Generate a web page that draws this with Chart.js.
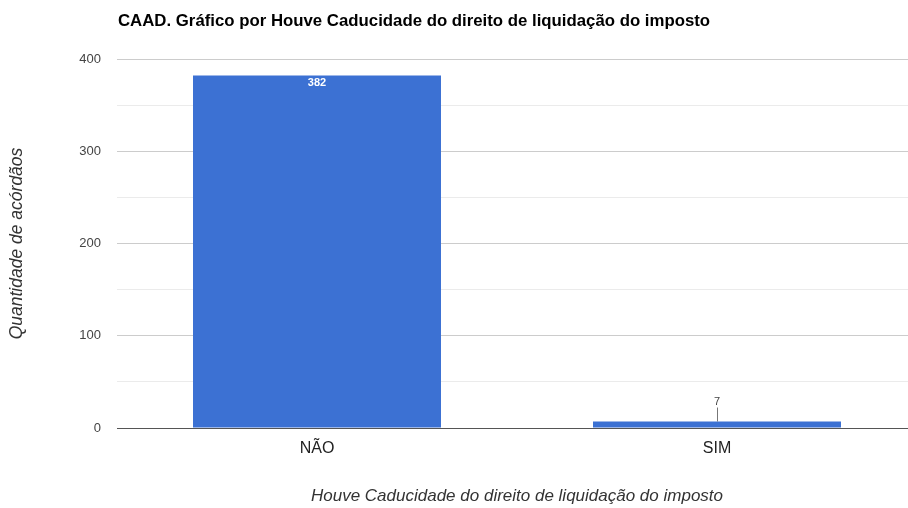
<!DOCTYPE html>
<html>
<head>
<meta charset="utf-8">
<script src="https://cdn.jsdelivr.net/npm/chart.js@4"></script>
<style>
  html, body { margin: 0; padding: 0; background: #fff; overflow: hidden; width: 908px; height: 508px; }
  /* plot area runs a little past the right edge, as in the original */
  #wrap { width: 917px; height: 508px; }
</style>
</head>
<body>
<div id="wrap"><canvas id="caadChart"></canvas></div>
<script>
// ============ CAAD bar chart ============
const chartTitle = 'CAAD. Gráfico por Houve Caducidade do direito de liquidação do imposto';
const categories = ['NÃO', 'SIM'];
const acordaos = [382, 7];
const yTicks = [0, 100, 200, 300, 400];

const FONT = 'Arial, "Liberation Sans", sans-serif';

// title + value labels drawn on the canvas
const extrasPlugin = {
    id: 'extras',
    afterDatasetsDraw(chart) {
        const ctx = chart.ctx;
        const area = chart.chartArea;
        ctx.save();
        ctx.font = 'bold 16.8px ' + FONT;
        ctx.fillStyle = '#000';
        ctx.textAlign = 'left';
        ctx.textBaseline = 'alphabetic';
        ctx.fillText(chartTitle, area.left + 1, 26);

        const meta = chart.getDatasetMeta(0);
        meta.data.forEach((bar, i) => {
            const v = acordaos[i];
            const h = bar.base - bar.y;
            ctx.textAlign = 'center';
            ctx.textBaseline = 'middle';
            if (h > 20) {
                ctx.font = 'bold 11px ' + FONT;
                ctx.fillStyle = '#fff';
                ctx.fillText(String(v), bar.x, bar.y + 7);
            } else {
                ctx.font = '11px ' + FONT;
                ctx.fillStyle = '#444';
                ctx.fillText(String(v), bar.x, bar.y - 20);
                ctx.strokeStyle = '#777';
                ctx.lineWidth = 1;
                ctx.beginPath();
                ctx.moveTo(Math.round(bar.x) + 0.5, bar.y - 14);
                ctx.lineTo(Math.round(bar.x) + 0.5, bar.y);
                ctx.stroke();
            }
        });
        ctx.restore();
    }
};

const ctx = document.getElementById('caadChart');
new Chart(ctx, {
    type: 'bar',
    data: {
        labels: categories,
        datasets: [{
            label: 'Quantidade de acórdãos',
            data: acordaos,
            backgroundColor: '#3c71d3',
            borderWidth: 0,
            barPercentage: 0.62,
            categoryPercentage: 1
        }]
    },
    options: {
        responsive: true,
        maintainAspectRatio: false,
        animation: false,
        layout: { padding: { top: 59, right: 0, left: 0, bottom: 0 } },
        plugins: {
            legend: { display: false },
            tooltip: { enabled: false }
        },
        scales: {
            y: {
                min: 0,
                max: 400,
                afterFit(scale) { scale.width = 117; },
                afterBuildTicks(scale) {
                    const t = [];
                    for (let v = 0; v <= 400; v += 50) t.push({ value: v });
                    scale.ticks = t;
                },
                ticks: {
                    padding: 16,
                    color: '#444',
                    font: { family: FONT, size: 13 },
                    callback: v => yTicks.includes(v) ? String(v) : ''
                },
                grid: {
                    drawTicks: false,
                    color: c => c.tick.value === 0 ? '#555' : (c.tick.value % 100 === 0 ? '#cccccc' : '#ebebeb'),
                    lineWidth: 1
                },
                border: { display: false },
                title: {
                    display: true,
                    text: 'Quantidade de acórdãos',
                    color: '#333',
                    font: { family: FONT, size: 17.5, style: 'italic' },
                    padding: { top: 7, bottom: 0 }
                }
            },
            x: {
                afterFit(scale) { scale.height = 80; },
                ticks: {
                    padding: 11,
                    color: '#222',
                    font: { family: FONT, size: 16 }
                },
                grid: { display: false, drawTicks: false },
                border: { display: false },
                title: {
                    display: true,
                    text: 'Houve Caducidade do direito de liquidação do imposto',
                    color: '#333',
                    font: { family: FONT, size: 17, style: 'italic' },
                    padding: { top: 0, bottom: 2 }
                }
            }
        }
    },
    plugins: [extrasPlugin]
});
</script>
</body>
</html>
